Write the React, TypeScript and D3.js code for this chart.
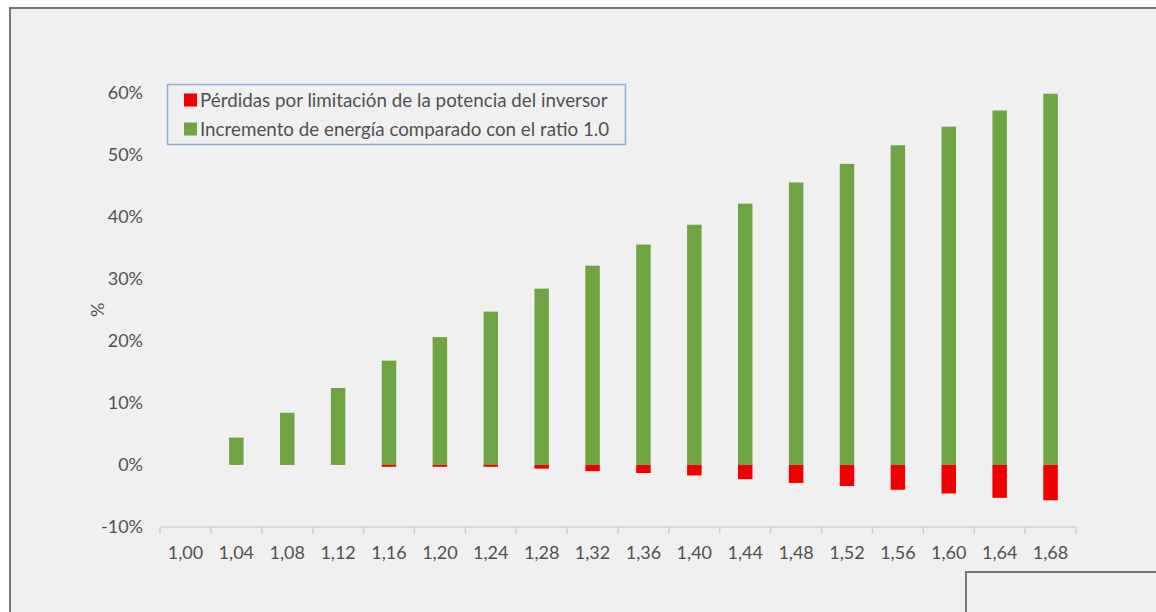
import React, { useEffect, useRef } from 'react';
import * as d3 from 'd3';

const ratios = ['1,00', '1,04', '1,08', '1,12', '1,16', '1,20', '1,24', '1,28', '1,32',
  '1,36', '1,40', '1,44', '1,48', '1,52', '1,56', '1,60', '1,64', '1,68'];
const incremento = [0, 4.4, 8.4, 12.4, 16.8, 20.6, 24.7, 28.4, 32.1,
  35.5, 38.7, 42.1, 45.5, 48.5, 51.5, 54.5, 57.1, 59.8];
const perdidas = [0, 0, 0, 0, -0.3, -0.3, -0.3, -0.6, -1.0,
  -1.3, -1.7, -2.3, -2.9, -3.4, -4.0, -4.6, -5.3, -5.7];
const yTicks = [-10, 0, 10, 20, 30, 40, 50, 60];
const seriesNames = [
  'Pérdidas por limitación de la potencia del inversor',
  'Incremento de energía comparado con el ratio 1.0',
];
const colors = ['#f00000', '#6ea542'];

const W = 1156;
const H = 612;
const font = 'Lato, "Open Sans", sans-serif';
const textColor = '#505050';

function Chart() {
  const ref = useRef<SVGSVGElement>(null);

  useEffect(() => {
    const svg = d3.select(ref.current);
    svg.selectAll('*').remove();

    // outer frame, cut by the window on the right and bottom
    svg.append('rect').attr('width', W).attr('height', H).attr('fill', '#ffffff');
    svg.append('rect')
      .attr('x', 10).attr('y', 8).attr('width', W + 20).attr('height', H + 20)
      .attr('fill', '#f0f0f0').attr('stroke', '#767676').attr('stroke-width', 2);

    const x = d3.scaleBand().domain(ratios).range([160, 1076]);
    const y = d3.scaleLinear().domain([-10, 60]).range([527, 92.5]);

    // y tick labels (no gridlines)
    svg.append('g').selectAll('text')
      .data(yTicks)
      .enter()
      .append('text')
      .attr('x', 143)
      .attr('y', (d) => y(d))
      .attr('dy', '0.35em')
      .attr('text-anchor', 'end')
      .style('font-family', font)
      .style('font-size', '18px')
      .style('fill', textColor)
      .text((d) => `${d}%`);

    svg.append('text')
      .attr('transform', `translate(98, ${y(25)}) rotate(-90)`)
      .attr('text-anchor', 'middle')
      .attr('dy', '0.35em')
      .style('font-family', font)
      .style('font-size', '18px')
      .style('fill', textColor)
      .text('%');

    // x axis
    const axis = svg.append('g').attr('transform', `translate(0, ${y(-10)})`);
    axis.append('line')
      .attr('x1', 160).attr('x2', 1076)
      .attr('stroke', '#d0d0d0').attr('stroke-width', 1.5);
    axis.selectAll('line.tick')
      .data(d3.range(ratios.length + 1))
      .enter()
      .append('line')
      .attr('class', 'tick')
      .attr('x1', (i) => 160 + i * x.step())
      .attr('x2', (i) => 160 + i * x.step())
      .attr('y1', 0).attr('y2', 7)
      .attr('stroke', '#d0d0d0').attr('stroke-width', 1.5);
    axis.selectAll('text')
      .data(ratios)
      .enter()
      .append('text')
      .attr('x', (d) => (x(d) as number) + x.bandwidth() / 2)
      .attr('y', 26)
      .attr('dy', '0.35em')
      .attr('text-anchor', 'middle')
      .style('font-family', font)
      .style('font-size', '18px')
      .style('fill', textColor)
      .text((d) => d);

    const bw = 14.5;
    const bars = svg.append('g');
    bars.selectAll('rect.inc')
      .data(ratios)
      .enter()
      .append('rect')
      .attr('class', 'inc')
      .attr('x', (d) => (x(d) as number) + x.bandwidth() / 2 - bw / 2)
      .attr('width', bw)
      .attr('y', (_, i) => y(incremento[i]))
      .attr('height', (_, i) => y(0) - y(incremento[i]))
      .style('fill', colors[1]);
    bars.selectAll('rect.per')
      .data(ratios)
      .enter()
      .append('rect')
      .attr('class', 'per')
      .attr('x', (d) => (x(d) as number) + x.bandwidth() / 2 - bw / 2)
      .attr('width', bw)
      .attr('y', y(0))
      .attr('height', (_, i) => y(perdidas[i]) - y(0))
      .style('fill', colors[0]);

    // legend
    const lg = svg.append('g');
    lg.append('rect')
      .attr('x', 167.5).attr('y', 84.5).attr('width', 458).attr('height', 60)
      .attr('fill', 'none').attr('stroke', '#8faadc').attr('stroke-width', 1.5);
    seriesNames.forEach((name, i) => {
      const cy = 100 + i * 29;
      lg.append('rect')
        .attr('x', 184).attr('y', cy - 6.5).attr('width', 13).attr('height', 13)
        .style('fill', colors[i]);
      lg.append('text')
        .attr('x', 200).attr('y', cy)
        .attr('dy', '0.35em')
        .style('font-family', font)
        .style('font-size', '18.8px')
        .style('fill', textColor)
        .text(name);
    });

    // corner of the next frame, lower right
    svg.append('rect')
      .attr('x', 966).attr('y', 572).attr('width', 300).attr('height', 100)
      .attr('fill', '#f0f0f0').attr('stroke', '#767676').attr('stroke-width', 2);
  }, []);

  return <svg ref={ref} width={W} height={H} style={{ position: 'absolute', left: 0, top: 0 }} />;
}

export default function App() {
  return <Chart />;
}
